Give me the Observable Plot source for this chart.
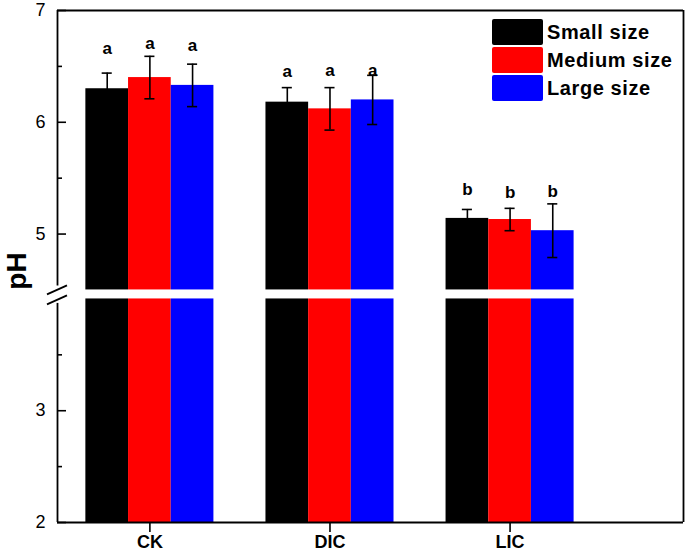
<!DOCTYPE html>
<html><head><meta charset="utf-8">
<script src="https://cdn.jsdelivr.net/npm/d3@7"></script>
<script src="https://cdn.jsdelivr.net/npm/@observablehq/plot@0.6"></script>
<style>
body{margin:0;background:#fff;}
#wrap{position:relative;width:686px;height:556px;font-family:"Liberation Sans",Arial,sans-serif;}
.legend{position:absolute;left:492px;top:18px;}
.item{display:flex;align-items:center;height:28px;}
.sw{width:51px;height:26px;border-radius:2px;margin-right:4px;}
.lab{font-weight:bold;font-size:20px;letter-spacing:0.6px;color:#000;line-height:26px;}
</style></head><body><div id="wrap"></div>
<script>
const categories = ["CK", "DIC", "LIC"];
const sizes = ["Small size", "Medium size", "Large size"];
const colors = ["#000000", "#ff0000", "#0000ff"];
const meanSmall  = [6.30, 6.18, 5.14];
const meanMedium = [6.40, 6.12, 5.13];
const meanLarge  = [6.33, 6.20, 5.03];
const sdSmall  = [0.14, 0.13, 0.08];
const sdMedium = [0.19, 0.19, 0.10];
const sdLarge  = [0.19, 0.22, 0.24];
const lettersByGroup = ["a", "a", "b"];
const letterYSmall  = [6.66, 6.45, 5.40];
const letterYMedium = [6.70, 6.46, 5.37];
const letterYLarge  = [6.69, 6.46, 5.38];
const yTicks = [2, 3, 5, 6, 7];
const yMinorTicks = [2.5, 3.5, 5.5, 6.5];
const yLabel = "pH";

const means = [meanSmall, meanMedium, meanLarge];
const sds = [sdSmall, sdMedium, sdLarge];
const letterYs = [letterYSmall, letterYMedium, letterYLarge];

const W = 686, H = 556, mL = 57, mR = 3, mT = 10, mB = 34;
const plotW = W - mL - mR;
const xDomain = [0.487, 3.963];
const barW = 0.237;
const cap = 0.028;
// broken y axis: [2,4] below the break, [4.5,7] above it
const breakLo = 4, breakHi = 4.5, yMin = 2, yMax = 7;
const gapPx = 9;
const unitPx = (H - mT - mB - gapPx) / ((breakLo - yMin) + (yMax - breakHi));
const gapU = gapPx / unitPx;
const brk = v => v <= breakLo ? v : (v >= breakHi ? v - (breakHi - breakLo) + gapU : breakLo + (v - breakLo) / (breakHi - breakLo) * gapU);
const unbrk = u => u <= breakLo ? u : u + (breakHi - breakLo) - gapU;

const rows = [];
categories.forEach((c, gi) => {
  sizes.forEach((s, si) => {
    const center = gi + 1 + (si - 1) * barW;
    rows.push({cat: c, size: s, mean: means[si][gi], sd: sds[si][gi],
      x1: center - barW / 2, x2: center + barW / 2, center,
      letter: lettersByGroup[gi], ly: letterYs[si][gi]});
  });
});

const lw = 1.8;
const plot = Plot.plot({
  width: W, height: H,
  marginLeft: mL, marginRight: mR, marginTop: mT, marginBottom: mB,
  style: {fontFamily: "'Liberation Sans', Arial, sans-serif", color: "black", background: "white", overflow: "visible"},
  x: {domain: xDomain},
  y: {domain: [brk(yMin), brk(yMax)]},
  color: {domain: sizes, range: colors},
  marks: [
    Plot.rectY(rows, {x1: "x1", x2: "x2", y1: brk(yMin), y2: d => brk(d.mean), fill: "size"}),
    Plot.ruleX(rows, {x: "center", y1: d => brk(d.mean - d.sd), y2: d => brk(d.mean + d.sd), stroke: "black", strokeWidth: 1.6}),
    Plot.ruleY(rows, {y: d => brk(d.mean + d.sd), x1: d => d.center - cap, x2: d => d.center + cap, stroke: "black", strokeWidth: 1.6}),
    Plot.ruleY(rows, {y: d => brk(d.mean - d.sd), x1: d => d.center - cap, x2: d => d.center + cap, stroke: "black", strokeWidth: 1.6}),
    Plot.rect([0], {x1: xDomain[0], x2: xDomain[1], y1: brk(breakLo), y2: brk(breakHi), fill: "white"}),
    Plot.text(rows, {x: "center", y: d => brk(d.ly), text: "letter", fontSize: 17, fontWeight: "bold", fill: "black"}),
    Plot.ruleY([yMax, yMin].map(brk), {stroke: "black", strokeWidth: lw}),
    Plot.ruleX([xDomain[1]], {y1: brk(yMin), y2: brk(yMax), stroke: "black", strokeWidth: lw}),
    Plot.ruleX([xDomain[0]], {y1: brk(4.535), y2: brk(yMax), stroke: "black", strokeWidth: lw}),
    Plot.ruleX([xDomain[0]], {y1: brk(yMin), y2: brk(3.96), stroke: "black", strokeWidth: lw}),
    Plot.tickY(yTicks.map(brk), {insetRight: plotW - 9, stroke: "black", strokeWidth: 1.6}),
    Plot.tickY(yMinorTicks.map(brk), {insetRight: plotW - 5, stroke: "black", strokeWidth: 1.6}),
    Plot.axisY({ticks: yTicks.map(brk), tickSize: 0, tickPadding: 12, fontSize: 18, label: null, tickFormat: u => String(Math.round(unbrk(u)))}),
    Plot.axisX({ticks: [1, 2, 3], tickFormat: i => categories[i - 1], tickSize: 10, tickPadding: 3, fontSize: 18, fontWeight: "bold", strokeWidth: 1.6, label: null})
  ]
});

const wrap = document.getElementById("wrap");
wrap.appendChild(plot);

const xs = plot.scale("x"), ys = plot.scale("y");
const x0 = xs.apply(xDomain[0]);
const svg = d3.select(plot);
// axis break slashes, positioned from the scales
[ys.apply(brk(breakHi)) + 0.5, ys.apply(brk(breakLo)) + 1.5].forEach(c => {
  svg.append("line").attr("x1", x0 - 10).attr("y1", c + 4.5).attr("x2", x0 + 10).attr("y2", c - 4.5)
    .attr("stroke", "black").attr("stroke-width", 1.8);
});
// y axis title
svg.append("text").attr("transform", `translate(${x0 - 41},${(mT + H - mB) / 2 + 5}) rotate(-90)`)
  .attr("text-anchor", "middle").attr("dominant-baseline", "central")
  .attr("font-size", 28).attr("font-weight", "bold").attr("fill", "black").text(yLabel);

// legend inside the plot
const leg = document.createElement("div");
leg.className = "legend";
sizes.forEach((s, i) => {
  const it = document.createElement("div"); it.className = "item";
  const sw = document.createElement("div"); sw.className = "sw"; sw.style.background = colors[i];
  const lb = document.createElement("span"); lb.className = "lab"; lb.textContent = s;
  it.appendChild(sw); it.appendChild(lb); leg.appendChild(it);
});
wrap.appendChild(leg);
</script></body></html>
